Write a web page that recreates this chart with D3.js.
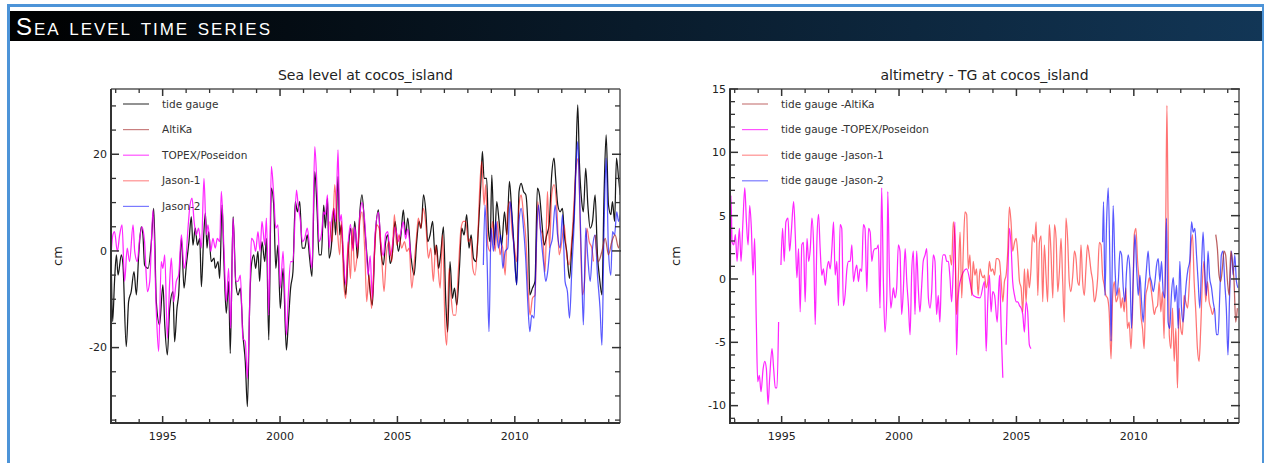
<!DOCTYPE html>
<html>
<head>
<meta charset="utf-8">
<script src="https://cdn.jsdelivr.net/npm/d3@7"></script>
<style>
  body { margin: 0; background: #fff; }
  svg { display: block; font-family: "DejaVu Sans", sans-serif; }
</style>
</head>
<body>
<svg id="chart" width="1267" height="463"></svg>
<script>
// ---- data (decimal year, cm) ----
const tideGauge = [[1992.81,-2.2],[1992.87,-14.6],[1992.95,-6.3],[1993.03,-0.8],[1993.10,-5.0],[1993.24,-0.8],[1993.31,-2.9],[1993.45,-19.8],[1993.55,-10.5],[1993.66,-8.4],[1993.78,-4.3],[1993.88,-9.1],[1993.98,-0.8],[1994.09,5.0],[1994.16,3.3],[1994.23,-2.9],[1994.38,-3.6],[1994.52,1.9],[1994.62,8.8],[1994.73,-10.5],[1994.87,-15.3],[1995.01,-7.0],[1995.09,-15.3],[1995.20,-21.5],[1995.30,-11.9],[1995.44,-8.4],[1995.51,-18.8],[1995.61,-11.9],[1995.68,-9.1],[1995.80,2.6],[1995.91,-7.7],[1996.01,-2.9],[1996.12,1.9],[1996.22,7.1],[1996.29,1.2],[1996.39,4.7],[1996.48,1.2],[1996.58,2.6],[1996.65,-7.4],[1996.75,3.3],[1996.82,7.8],[1996.89,0.6],[1996.96,4.0],[1997.07,-2.2],[1997.19,-1.5],[1997.24,-3.6],[1997.36,-2.2],[1997.43,-5.7],[1997.53,9.5],[1997.61,-2.2],[1997.71,-12.9],[1997.81,-6.3],[1997.88,-21.2],[1998.00,7.1],[1998.11,-6.3],[1998.21,-9.1],[1998.31,-7.7],[1998.42,-17.4],[1998.52,-22.9],[1998.61,-32.2],[1998.71,-10.5],[1998.78,-2.9],[1998.88,-0.8],[1998.96,-3.6],[1999.06,-0.1],[1999.13,-6.3],[1999.23,1.9],[1999.35,-2.2],[1999.42,2.6],[1999.52,-18.4],[1999.63,13.0],[1999.73,9.5],[1999.82,-3.6],[1999.91,1.2],[2000.01,-11.9],[2000.13,-3.6],[2000.27,-20.5],[2000.34,-16.0],[2000.45,-7.7],[2000.55,-4.3],[2000.65,10.2],[2000.74,8.1],[2000.84,10.2],[2000.94,0.6],[2001.05,0.6],[2001.16,3.3],[2001.26,-1.5],[2001.36,-5.3],[2001.48,16.4],[2001.58,8.1],[2001.66,-0.8],[2001.76,-0.8],[2001.86,9.5],[2001.93,4.7],[2002.02,10.9],[2002.09,-1.5],[2002.19,1.2],[2002.29,8.8],[2002.37,3.3],[2002.47,15.4],[2002.54,3.3],[2002.61,5.4],[2002.68,-0.1],[2002.80,-9.1],[2002.90,-0.8],[2003.00,4.7],[2003.11,0.6],[2003.18,6.1],[2003.30,-1.5],[2003.40,8.1],[2003.49,11.6],[2003.61,4.7],[2003.76,-4.3],[2003.93,-11.2],[2004.05,2.6],[2004.19,8.5],[2004.30,-0.1],[2004.40,-2.9],[2004.50,1.9],[2004.59,3.3],[2004.69,-2.6],[2004.78,-0.8],[2004.90,6.1],[2005.04,-0.1],[2005.15,3.3],[2005.25,8.5],[2005.35,3.3],[2005.44,6.8],[2005.57,-0.8],[2005.71,-5.0],[2005.82,1.9],[2005.92,6.1],[2006.01,4.7],[2006.11,11.6],[2006.21,8.1],[2006.29,1.9],[2006.39,3.3],[2006.50,6.1],[2006.60,-0.8],[2006.67,1.2],[2006.75,-3.6],[2006.84,-0.8],[2006.96,5.0],[2007.06,-10.5],[2007.14,-16.8],[2007.24,-2.2],[2007.34,-9.8],[2007.43,-7.7],[2007.53,-11.2],[2007.64,-3.6],[2007.74,4.7],[2007.84,3.3],[2007.95,7.5],[2008.05,0.6],[2008.14,3.3],[2008.24,-1.5],[2008.35,-2.2],[2008.45,4.7],[2008.55,13.7],[2008.62,20.6],[2008.69,15.0],[2008.80,15.0],[2008.88,4.0],[2008.95,1.9],[2009.02,15.7],[2009.13,1.2],[2009.23,10.2],[2009.33,6.1],[2009.44,1.2],[2009.56,8.1],[2009.66,3.3],[2009.77,14.4],[2009.87,8.1],[2009.98,-0.1],[2010.08,-7.0],[2010.18,12.3],[2010.27,14.0],[2010.37,12.3],[2010.47,11.6],[2010.58,1.9],[2010.64,-9.1],[2010.75,-7.7],[2010.86,-6.3],[2010.96,13.0],[2011.05,11.6],[2011.15,6.1],[2011.25,1.2],[2011.36,3.3],[2011.46,5.4],[2011.57,15.7],[2011.67,19.2],[2011.74,15.0],[2011.83,9.5],[2011.93,8.1],[2012.03,8.8],[2012.11,3.3],[2012.21,-0.1],[2012.33,-5.7],[2012.43,1.2],[2012.54,9.5],[2012.60,18.4],[2012.68,30.2],[2012.75,18.4],[2012.85,10.2],[2012.92,8.1],[2013.02,17.1],[2013.11,9.5],[2013.21,4.7],[2013.31,6.1],[2013.42,11.6],[2013.52,-0.8],[2013.61,-5.7],[2013.71,-9.1],[2013.80,11.6],[2013.89,24.0],[2013.99,9.5],[2014.09,7.5],[2014.16,10.2],[2014.25,6.1],[2014.33,19.2],[2014.42,15.0],[2014.49,11.6]];

const topex = [[1992.81,-0.1],[1992.88,3.3],[1992.95,4.0],[1993.07,-0.1],[1993.17,3.3],[1993.27,5.4],[1993.38,-6.3],[1993.49,0.6],[1993.59,-2.2],[1993.74,5.4],[1993.81,-0.1],[1993.92,-2.2],[1994.02,2.6],[1994.12,5.0],[1994.23,1.9],[1994.35,-8.4],[1994.45,-6.3],[1994.59,8.5],[1994.73,-12.6],[1994.83,-20.8],[1994.94,-2.2],[1995.01,-3.6],[1995.09,-0.8],[1995.20,-18.1],[1995.30,-6.3],[1995.37,-1.5],[1995.47,-10.5],[1995.58,-6.3],[1995.68,-5.0],[1995.80,3.3],[1995.91,-3.6],[1995.98,-2.2],[1996.08,4.7],[1996.15,8.8],[1996.25,10.9],[1996.34,6.1],[1996.43,3.3],[1996.53,4.7],[1996.65,0.6],[1996.76,15.0],[1996.86,3.3],[1996.93,5.4],[1997.05,-0.1],[1997.14,2.6],[1997.24,0.6],[1997.33,2.6],[1997.43,1.9],[1997.50,12.3],[1997.61,0.6],[1997.71,-10.5],[1997.81,-3.6],[1997.90,-16.0],[1998.00,6.8],[1998.11,-6.3],[1998.21,-6.3],[1998.31,-5.0],[1998.42,-18.1],[1998.52,-18.8],[1998.61,-26.4],[1998.71,-10.5],[1998.78,2.6],[1998.88,1.9],[1998.96,-0.1],[1999.06,4.0],[1999.15,-0.1],[1999.23,6.1],[1999.35,1.2],[1999.42,6.8],[1999.52,-13.3],[1999.63,17.5],[1999.73,11.6],[1999.82,4.7],[1999.91,5.4],[2000.01,-7.7],[2000.13,-0.1],[2000.27,-17.4],[2000.34,-10.5],[2000.45,-2.2],[2000.55,-2.2],[2000.70,12.6],[2000.77,9.5],[2000.87,6.1],[2000.95,1.9],[2001.05,2.6],[2001.16,4.7],[2001.26,0.6],[2001.36,-3.6],[2001.48,21.6],[2001.58,12.3],[2001.66,1.9],[2001.76,3.3],[2001.86,8.1],[2001.93,7.5],[2002.02,11.6],[2002.09,0.6],[2002.19,6.1],[2002.29,8.8],[2002.37,6.1],[2002.47,20.9],[2002.54,6.1],[2002.61,7.5],[2002.68,1.0],[2002.80,-7.0],[2002.90,1.5],[2003.00,5.5],[2003.11,0.0],[2003.18,5.0],[2003.30,0.5],[2003.40,7.5],[2003.49,10.0],[2003.61,6.0],[2003.75,-5.0],[2003.84,-1.0],[2003.93,-10.0],[2004.05,3.5],[2004.19,8.0],[2004.30,1.5],[2004.40,-1.0],[2004.50,3.5],[2004.59,4.0],[2004.69,-1.0],[2004.78,1.0],[2004.90,5.0],[2005.04,2.0],[2005.15,4.0],[2005.25,6.0],[2005.35,2.5],[2005.44,4.5],[2005.57,-1.5]];

const jason1 = [[2002.12,6.1],[2002.22,1.9],[2002.33,13.7],[2002.44,4.7],[2002.54,-0.8],[2002.61,6.1],[2002.71,-6.3],[2002.80,-9.8],[2002.90,1.9],[2003.00,-5.7],[2003.08,4.7],[2003.18,-4.3],[2003.30,-0.1],[2003.40,6.1],[2003.49,8.1],[2003.61,-0.1],[2003.69,-10.5],[2003.79,-5.0],[2003.90,-11.9],[2004.02,-0.8],[2004.12,5.4],[2004.22,4.7],[2004.33,-1.5],[2004.43,-8.4],[2004.54,-0.1],[2004.64,1.9],[2004.76,-2.2],[2004.87,7.5],[2004.97,1.2],[2005.07,3.3],[2005.18,0.6],[2005.30,1.9],[2005.40,-0.1],[2005.50,0.6],[2005.61,-7.7],[2005.72,-2.2],[2005.82,3.3],[2005.89,6.8],[2005.99,4.7],[2006.11,8.8],[2006.21,5.4],[2006.32,-1.5],[2006.42,0.6],[2006.53,-6.3],[2006.63,1.2],[2006.72,-2.9],[2006.82,-7.7],[2006.92,3.3],[2007.03,-16.0],[2007.10,-19.5],[2007.20,-3.6],[2007.28,-9.1],[2007.38,-13.3],[2007.48,-13.3],[2007.60,-3.6],[2007.71,4.7],[2007.81,6.1],[2007.91,6.1],[2008.02,1.9],[2008.12,2.6],[2008.21,-3.6],[2008.31,-5.0],[2008.42,2.6],[2008.52,14.4],[2008.59,18.5],[2008.69,9.5],[2008.76,13.7],[2008.85,1.2],[2008.95,-0.1],[2009.05,6.1],[2009.16,-0.1],[2009.26,6.1],[2009.37,-0.8],[2009.47,1.2],[2009.59,-5.0],[2009.70,8.8],[2009.80,10.2],[2009.87,4.7],[2009.97,1.2],[2010.08,-2.2],[2010.18,9.5],[2010.27,11.6],[2010.37,7.5],[2010.47,2.6],[2010.58,-9.1],[2010.65,-13.3],[2010.75,-9.8],[2010.86,-9.1],[2010.98,10.2],[2011.08,4.7],[2011.18,3.3],[2011.29,-4.3],[2011.39,12.3],[2011.48,0.6],[2011.57,11.6],[2011.67,13.7],[2011.79,8.8],[2011.89,-0.8],[2012.00,1.9],[2012.10,5.4],[2012.21,-0.8],[2012.31,-2.9],[2012.43,2.6],[2012.54,11.6],[2012.61,17.1],[2012.71,19.2],[2012.78,6.1],[2012.88,-9.1],[2012.97,-6.3],[2013.07,4.7],[2013.17,1.9],[2013.28,0.6],[2013.35,-2.2]];

const jason2 = [[2008.66,-2.9],[2008.73,9.5],[2008.82,-2.2],[2008.90,-16.7],[2008.99,4.7],[2009.09,-0.1],[2009.19,6.1],[2009.30,0.6],[2009.40,3.3],[2009.49,-3.6],[2009.59,-0.1],[2009.70,0.6],[2009.80,10.2],[2009.87,7.5],[2009.97,-0.1],[2010.08,-7.0],[2010.18,6.1],[2010.27,8.8],[2010.37,4.7],[2010.47,-2.2],[2010.55,-10.5],[2010.64,-16.7],[2010.72,-13.3],[2010.82,-13.9],[2010.94,4.7],[2011.01,9.5],[2011.11,3.3],[2011.22,-2.2],[2011.32,-6.3],[2011.40,-4.3],[2011.50,0.6],[2011.60,2.6],[2011.72,9.5],[2011.82,3.3],[2011.93,0.6],[2012.03,7.5],[2012.14,-6.3],[2012.24,-8.4],[2012.33,-13.9],[2012.43,-3.6],[2012.53,6.1],[2012.61,17.8],[2012.68,22.6],[2012.75,13.0],[2012.85,-4.3],[2012.92,-15.3],[2013.02,4.7],[2013.11,-1.5],[2013.21,-6.3],[2013.31,0.6],[2013.42,3.3],[2013.52,-5.0],[2013.63,-11.9],[2013.71,-19.5],[2013.80,4.7],[2013.89,19.2],[2013.99,-0.1],[2014.09,-5.0],[2014.16,4.0],[2014.25,3.3],[2014.34,8.1],[2014.42,6.1],[2014.49,7.5]];

const altika = [[2013.42,3.3],[2013.56,-2.2],[2013.71,-0.1],[2013.85,2.6],[2013.99,-0.8],[2014.13,1.9],[2014.27,3.3],[2014.42,0.6],[2014.49,2.6]];

// tide gauge minus altimetry
const diffTopex = [[1992.82,0.8],[1992.84,6.6],[1992.89,2.9],[1992.96,2.7],[1993.03,3.5],[1993.10,1.4],[1993.20,4.0],[1993.27,1.4],[1993.35,4.5],[1993.43,7.2],[1993.50,4.5],[1993.57,2.7],[1993.64,5.8],[1993.71,4.0],[1993.78,0.3],[1993.85,3.2],[1993.92,-3.4],[1993.98,-8.1],[1994.05,-7.6],[1994.12,-8.9],[1994.21,-7.1],[1994.28,-6.5],[1994.35,-7.1],[1994.42,-9.9],[1994.49,-7.8],[1994.59,-5.5],[1994.66,-7.1],[1994.73,-8.6],[1994.80,-8.6],[1994.87,-3.4],[1994.92,null],[1994.97,1.1],[1995.04,4.0],[1995.11,1.4],[1995.18,4.5],[1995.27,4.8],[1995.34,2.2],[1995.41,3.7],[1995.51,6.1],[1995.58,3.5],[1995.65,0.1],[1995.72,2.4],[1995.79,-2.6],[1995.86,2.7],[1995.93,2.9],[1996.00,-1.8],[1996.08,3.2],[1996.15,1.4],[1996.22,2.4],[1996.29,4.8],[1996.36,2.7],[1996.43,-3.6],[1996.50,2.9],[1996.57,5.1],[1996.64,2.4],[1996.71,0.3],[1996.78,0.8],[1996.86,-0.5],[1996.93,0.8],[1997.00,1.4],[1997.07,0.8],[1997.14,2.4],[1997.21,4.5],[1997.28,0.3],[1997.35,1.4],[1997.42,-2.1],[1997.49,4.3],[1997.56,4.0],[1997.63,-2.1],[1997.70,-1.3],[1997.78,0.8],[1997.85,1.4],[1997.92,1.4],[1997.99,2.7],[1998.06,-0.2],[1998.13,0.6],[1998.20,1.1],[1998.27,-0.2],[1998.34,0.8],[1998.41,0.6],[1998.48,4.3],[1998.55,4.0],[1998.63,-1.0],[1998.70,4.0],[1998.77,3.7],[1998.84,1.4],[1998.91,2.2],[1998.98,2.4],[1999.05,2.4],[1999.12,2.7],[1999.19,-2.3],[1999.26,7.2],[1999.33,0.1],[1999.40,-4.2],[1999.48,-1.3],[1999.52,6.9],[1999.59,0.6],[1999.65,-2.3],[1999.72,-1.3],[1999.76,-0.7],[1999.83,-1.5],[1999.90,-0.7],[1999.97,2.7],[2000.04,2.2],[2000.11,-2.8],[2000.18,-1.0],[2000.26,2.4],[2000.33,-0.2],[2000.40,-2.1],[2000.47,-4.4],[2000.54,0.6],[2000.61,2.2],[2000.68,-2.8],[2000.75,2.2],[2000.82,-0.7],[2000.89,-2.6],[2000.96,-0.7],[2001.03,1.4],[2001.11,1.9],[2001.18,2.4],[2001.25,-1.5],[2001.32,-2.3],[2001.39,-1.0],[2001.46,1.9],[2001.53,1.4],[2001.60,-2.8],[2001.67,-1.3],[2001.74,-3.4],[2001.81,0.6],[2001.88,1.9],[2001.96,1.9],[2002.03,1.4],[2002.10,1.4],[2002.17,0.1],[2002.24,-1.8],[2002.31,0.8],[2002.38,4.5],[2002.45,-6.0],[2002.52,-1.5],[2002.60,-0.2],[2002.88,0.8],[2003.16,-1.3],[2003.45,-1.5],[2003.64,-0.2],[2003.71,-5.7],[2003.78,-1.8],[2003.85,0.3],[2003.92,-2.6],[2003.99,-1.0],[2004.07,-1.3],[2004.18,-3.4],[2004.28,0.3],[2004.35,-3.9],[2004.42,-7.8],[2004.49,null],[2004.56,-5.2],[2004.63,-0.2],[2004.70,4.0],[2004.77,2.7],[2004.84,-0.2],[2004.92,-1.3],[2004.99,-1.8],[2005.06,-1.8],[2005.13,-2.1],[2005.20,-2.3],[2005.27,-2.8],[2005.34,-4.2],[2005.41,-1.8],[2005.48,-2.6],[2005.55,-5.2],[2005.62,-5.5]];

const diffJason1 = [[2002.17,1.9],[2002.24,1.1],[2002.31,4.5],[2002.38,2.9],[2002.45,-2.8],[2002.52,-0.2],[2002.60,3.7],[2002.67,-1.5],[2002.74,2.4],[2002.81,5.3],[2002.88,5.1],[2002.95,0.8],[2003.02,1.9],[2003.09,-1.3],[2003.16,1.4],[2003.23,0.3],[2003.30,0.8],[2003.37,-1.3],[2003.45,0.8],[2003.52,0.3],[2003.59,0.1],[2003.64,0.3],[2003.71,-0.7],[2003.78,-0.2],[2003.85,1.4],[2003.92,0.6],[2003.99,0.8],[2004.07,0.3],[2004.14,1.6],[2004.21,1.6],[2004.28,1.4],[2004.35,-0.2],[2004.42,-1.8],[2004.49,-0.2],[2004.56,0.3],[2004.63,2.2],[2004.70,5.7],[2004.77,4.5],[2004.84,2.2],[2004.92,2.9],[2004.99,3.2],[2005.06,1.9],[2005.13,-0.2],[2005.20,-0.7],[2005.27,-2.6],[2005.34,0.8],[2005.41,-1.8],[2005.48,0.8],[2005.55,-0.7],[2005.62,0.8],[2005.69,3.5],[2005.77,2.9],[2005.84,4.5],[2005.91,-1.3],[2005.98,2.9],[2006.05,3.4],[2006.12,-1.8],[2006.19,2.7],[2006.26,0.3],[2006.33,-1.8],[2006.40,4.3],[2006.47,2.2],[2006.55,-1.5],[2006.62,4.3],[2006.69,3.2],[2006.76,-1.0],[2006.83,0.6],[2006.90,3.2],[2006.97,-0.2],[2007.04,-3.4],[2007.11,4.8],[2007.18,3.2],[2007.25,-0.2],[2007.32,-1.0],[2007.40,0.3],[2007.47,2.2],[2007.54,1.6],[2007.61,-0.2],[2007.68,-0.5],[2007.75,2.7],[2007.82,-0.2],[2007.89,-1.3],[2007.96,0.8],[2008.03,2.7],[2008.10,1.9],[2008.18,0.6],[2008.25,-0.2],[2008.32,-1.8],[2008.39,-1.3],[2008.46,0.1],[2008.53,2.9],[2008.60,2.7],[2008.67,0.3],[2008.74,-0.5],[2008.81,-1.3],[2008.88,-1.5],[2008.95,-2.6],[2009.03,-6.3],[2009.10,-1.3],[2009.17,-0.2],[2009.24,-1.8],[2009.31,-1.5],[2009.38,-0.7],[2009.45,-2.3],[2009.52,-1.5],[2009.59,-2.6],[2009.66,-0.7],[2009.73,-3.9],[2009.80,-3.4],[2009.88,-5.5],[2009.95,-2.3],[2010.02,3.5],[2010.09,4.0],[2010.16,1.4],[2010.23,-0.2],[2010.30,-2.8],[2010.37,-3.9],[2010.44,-5.5],[2010.51,-1.3],[2010.58,-0.7],[2010.66,0.1],[2010.73,-0.7],[2010.80,-1.8],[2010.87,-2.8],[2010.94,-2.3],[2011.01,-2.1],[2011.08,-0.2],[2011.15,-2.6],[2011.22,-1.0],[2011.29,-4.7],[2011.36,4.5],[2011.41,13.7],[2011.46,4.5],[2011.51,-4.4],[2011.58,-5.5],[2011.65,-2.3],[2011.72,-6.5],[2011.79,-3.9],[2011.86,-8.6],[2011.93,-2.3],[2012.00,-3.9],[2012.07,-4.4],[2012.14,-1.3],[2012.21,-1.8],[2012.29,-2.3],[2012.36,-0.5],[2012.43,2.4],[2012.50,3.5],[2012.57,-0.2],[2012.64,-2.6],[2012.71,-5.5],[2012.78,-6.5],[2012.85,-3.9],[2012.92,-0.2],[2012.99,1.4],[2013.06,-1.8],[2013.14,-0.2],[2013.21,-1.8],[2013.28,-2.3],[2013.35,-2.8],[2013.42,-2.3]];

const diffJason2 = [[2008.67,2.9],[2008.71,6.1],[2008.77,-1.3],[2008.84,4.5],[2008.91,7.2],[2008.98,1.4],[2009.03,-4.9],[2009.07,-0.2],[2009.12,5.8],[2009.20,0.8],[2009.27,-1.3],[2009.34,-0.2],[2009.41,2.2],[2009.48,1.9],[2009.55,-0.7],[2009.62,-1.8],[2009.69,0.6],[2009.76,1.9],[2009.83,0.8],[2009.90,-3.9],[2009.97,-0.2],[2010.05,3.5],[2010.12,0.8],[2010.19,-1.3],[2010.26,0.3],[2010.33,-1.8],[2010.40,-3.4],[2010.47,-1.0],[2010.54,0.8],[2010.61,2.2],[2010.68,0.3],[2010.75,-0.2],[2010.83,-1.0],[2010.90,-0.2],[2010.97,1.1],[2011.04,1.6],[2011.11,-0.2],[2011.18,1.4],[2011.25,-1.0],[2011.32,-1.5],[2011.39,4.8],[2011.46,-3.4],[2011.53,-3.9],[2011.60,-1.3],[2011.68,0.1],[2011.75,-1.8],[2011.82,-0.5],[2011.89,-3.9],[2011.96,1.4],[2012.03,-2.3],[2012.10,-3.4],[2012.17,-1.8],[2012.24,-0.2],[2012.31,0.8],[2012.38,1.4],[2012.46,4.5],[2012.53,3.7],[2012.60,4.0],[2012.67,1.9],[2012.74,-0.2],[2012.81,-2.3],[2012.88,0.8],[2012.95,3.7],[2013.02,0.8],[2013.09,-1.3],[2013.16,2.2],[2013.23,0.1],[2013.31,-0.7],[2013.38,-1.8],[2013.45,-2.6],[2013.52,-4.4],[2013.59,-4.4],[2013.66,-1.3],[2013.73,1.9],[2013.80,2.2],[2013.87,-0.2],[2013.94,-2.3],[2014.01,-6.0],[2014.08,-1.3],[2014.16,2.2],[2014.23,0.3],[2014.30,1.9],[2014.37,-0.2],[2014.44,-0.7]];

const diffAltika = [[2013.49,3.5],[2013.56,2.4],[2013.63,0.3],[2013.70,-0.2],[2013.77,0.8],[2013.84,2.2],[2013.91,1.9],[2013.99,-0.2],[2014.06,-1.3],[2014.13,2.2],[2014.20,1.4],[2014.27,-0.2],[2014.34,-3.4],[2014.41,-2.3]];

const xDomain = [1992.8, 2014.48];
const yearTicks = [1995, 2000, 2005, 2010];
const levelTicks = [-20, 0, 20];
const diffTicks = [-10, -5, 0, 5, 10, 15];
const levelLabels = ['tide gauge', 'AltiKa', 'TOPEX/Poseidon', 'Jason-1', 'Jason-2'];
const diffLabels = ['tide gauge -AltiKa', 'tide gauge -TOPEX/Poseidon', 'tide gauge -Jason-1', 'tide gauge -Jason-2'];

// line styles
const styles = {
    tg:     { color: '#000000', opacity: 0.9 },
    altika: { color: '#a52a2a', opacity: 0.75 },
    topex:  { color: '#ff00ff', opacity: 0.85 },
    jason1: { color: '#ff0000', opacity: 0.55 },
    jason2: { color: '#0000ff', opacity: 0.65 }
};

const svg = d3.select('#chart');

// ---- page header ----
const defs = svg.append('defs');
const grad = defs.append('linearGradient').attr('id', 'hdr').attr('x1', 0).attr('x2', 1);
grad.append('stop').attr('offset', 0).attr('stop-color', '#000000');
grad.append('stop').attr('offset', 1).attr('stop-color', '#123656');

svg.append('rect').attr('x', 7).attr('y', 4).attr('width', 1256).attr('height', 3).attr('fill', '#4d94d8');
svg.append('rect').attr('x', 7).attr('y', 4).attr('width', 3).attr('height', 459).attr('fill', '#4d94d8');
svg.append('rect').attr('x', 1262).attr('y', 4).attr('width', 2).attr('height', 459).attr('fill', '#4d94d8');
svg.append('rect').attr('x', 10).attr('y', 11).attr('width', 1252).attr('height', 30).attr('fill', 'url(#hdr)');
svg.append('text')
    .attr('x', 16).attr('y', 35)
    .attr('fill', '#ffffff')
    .style('font-family', '"Liberation Sans", Arial, sans-serif')
    .style('font-size', '24px')
    .style('font-variant', 'small-caps')
    .attr('textLength', 254)
    .attr('lengthAdjust', 'spacing')
    .text('Sea level time series');

// ---- one panel ----
function drawPanel(cfg) {
    const g = svg.append('g');
    const x = d3.scaleLinear().domain(xDomain).range([cfg.left, cfg.right]);
    const y = d3.scaleLinear().domain(cfg.yDomain).range([cfg.bottom, cfg.top]);

    const clipId = 'clip' + cfg.left;
    defs.append('clipPath').attr('id', clipId)
        .append('rect')
        .attr('x', cfg.left).attr('y', cfg.top)
        .attr('width', cfg.right - cfg.left).attr('height', cfg.bottom - cfg.top);

    const line = d3.line()
        .defined(d => d[1] !== null)
        .x(d => x(d[0]))
        .y(d => y(d[1]))
        .curve(d3.curveMonotoneX);

    const plot = g.append('g').attr('clip-path', `url(#${clipId})`);
    cfg.series.forEach(s => {
        plot.append('path')
            .datum(s.data)
            .attr('d', line)
            .attr('fill', 'none')
            .attr('stroke', s.style.color)
            .attr('stroke-opacity', s.style.opacity)
            .attr('stroke-width', 1.25)
            .attr('stroke-linejoin', 'round');
    });

    // frame
    const axisColor = '#333';
    g.append('line').attr('x1', cfg.left).attr('x2', cfg.right).attr('y1', cfg.top).attr('y2', cfg.top)
        .attr('stroke', '#555').attr('stroke-width', 1.5);
    g.append('line').attr('x1', cfg.right).attr('x2', cfg.right).attr('y1', cfg.top).attr('y2', cfg.bottom)
        .attr('stroke', '#555').attr('stroke-width', 1.5);
    g.append('line').attr('x1', cfg.left).attr('x2', cfg.left).attr('y1', cfg.top).attr('y2', cfg.bottom + 1)
        .attr('stroke', axisColor).attr('stroke-width', 2);
    g.append('line').attr('x1', cfg.left - 1).attr('x2', cfg.right).attr('y1', cfg.bottom).attr('y2', cfg.bottom)
        .attr('stroke', axisColor).attr('stroke-width', 2);

    // x ticks (bottom and top, pointing inward)
    const minorYears = d3.range(1993, 2015).filter(v => !yearTicks.includes(v));
    [[cfg.bottom, -1], [cfg.top, 1]].forEach(([yy, dir]) => {
        g.append('g').selectAll('line').data(minorYears).join('line')
            .attr('x1', d => x(d)).attr('x2', d => x(d))
            .attr('y1', yy).attr('y2', yy + dir * 4)
            .attr('stroke', axisColor).attr('stroke-width', 1.3);
        g.append('g').selectAll('line').data(yearTicks).join('line')
            .attr('x1', d => x(d)).attr('x2', d => x(d))
            .attr('y1', yy).attr('y2', yy + dir * 7)
            .attr('stroke', axisColor).attr('stroke-width', 1.5);
    });
    g.append('g').selectAll('text').data(yearTicks).join('text')
        .attr('x', d => x(d)).attr('y', cfg.bottom + 17)
        .attr('text-anchor', 'middle')
        .attr('fill', '#222')
        .style('font-size', '11px')
        .text(d => d);

    // y ticks (left and right, pointing inward)
    const yMinor = d3.range(Math.ceil(cfg.yDomain[0] / cfg.minorStep) * cfg.minorStep, cfg.yDomain[1] + 0.001, cfg.minorStep)
        .filter(v => !cfg.yTicks.includes(v));
    [[cfg.left, 1], [cfg.right, -1]].forEach(([xx, dir]) => {
        g.append('g').selectAll('line').data(yMinor).join('line')
            .attr('x1', xx).attr('x2', xx + dir * 5)
            .attr('y1', d => y(d)).attr('y2', d => y(d))
            .attr('stroke', axisColor).attr('stroke-width', 1.3);
        g.append('g').selectAll('line').data(cfg.yTicks).join('line')
            .attr('x1', xx - dir).attr('x2', xx + dir * 8)
            .attr('y1', d => y(d)).attr('y2', d => y(d))
            .attr('stroke', axisColor).attr('stroke-width', 1.5);
    });
    g.append('g').selectAll('text').data(cfg.yTicks).join('text')
        .attr('x', cfg.left - 4).attr('y', d => y(d))
        .attr('dy', '0.35em')
        .attr('text-anchor', 'end')
        .attr('fill', '#222')
        .style('font-size', '11px')
        .text(d => d);

    // unit label
    g.append('text')
        .attr('transform', `translate(${cfg.unitX},${(cfg.top + cfg.bottom) / 2}) rotate(-90)`)
        .attr('text-anchor', 'middle')
        .attr('dy', '0.35em')
        .attr('fill', '#222')
        .style('font-size', '13px')
        .text('cm');

    // title
    g.append('text')
        .attr('x', (cfg.left + cfg.right) / 2).attr('y', 80)
        .attr('text-anchor', 'middle')
        .attr('fill', '#222')
        .style('font-size', '14px')
        .text(cfg.title);

    // legend
    const legend = g.append('g');
    cfg.legend.forEach((item, i) => {
        const ly = 104 + i * 25.6;
        legend.append('line')
            .attr('x1', cfg.left + 12).attr('x2', cfg.left + 38)
            .attr('y1', ly).attr('y2', ly)
            .attr('stroke', item.style.color)
            .attr('stroke-opacity', item.style.opacity * 0.8)
            .attr('stroke-width', 1.2);
        legend.append('text')
            .attr('x', cfg.left + 51).attr('y', ly)
            .attr('dy', '0.35em')
            .attr('fill', '#333')
            .style('font-size', '10.5px')
            .text(item.label);
    });
}

drawPanel({
    left: 111, right: 620, top: 89, bottom: 423,
    yDomain: [-35.6, 33.5], yTicks: levelTicks, minorStep: 5,
    unitX: 57,
    title: 'Sea level at cocos_island',
    series: [
        { data: tideGauge, style: styles.tg },
        { data: topex, style: styles.topex },
        { data: jason1, style: styles.jason1 },
        { data: jason2, style: styles.jason2 },
        { data: altika, style: styles.altika }
    ],
    legend: [
        { label: levelLabels[0], style: styles.tg },
        { label: levelLabels[1], style: styles.altika },
        { label: levelLabels[2], style: styles.topex },
        { label: levelLabels[3], style: styles.jason1 },
        { label: levelLabels[4], style: styles.jason2 }
    ]
});

drawPanel({
    left: 730, right: 1239, top: 89, bottom: 423,
    yDomain: [-11.37, 15], yTicks: diffTicks, minorStep: 1,
    unitX: 675,
    title: 'altimetry - TG at cocos_island',
    series: [
        { data: diffTopex, style: styles.topex },
        { data: diffJason1, style: styles.jason1 },
        { data: diffJason2, style: styles.jason2 },
        { data: diffAltika, style: styles.altika }
    ],
    legend: [
        { label: diffLabels[0], style: styles.altika },
        { label: diffLabels[1], style: styles.topex },
        { label: diffLabels[2], style: styles.jason1 },
        { label: diffLabels[3], style: styles.jason2 }
    ]
});
</script>
</body>
</html>
